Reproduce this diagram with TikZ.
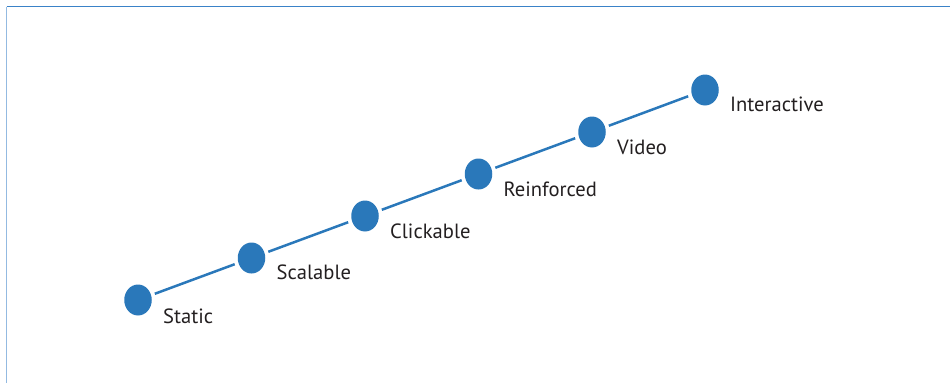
\documentclass[tikz,border=0pt]{standalone}
\usepackage{fontspec}
\setmainfont{PT Sans}
\usetikzlibrary{shapes.geometric}
\definecolor{dotblue}{HTML}{2A78BA}
\definecolor{framebl}{HTML}{3A82C8}
\definecolor{txt}{HTML}{231F20}
\tikzset{
  stage/.style={ellipse, fill=dotblue, minimum width=27.5pt, minimum height=31pt, inner sep=0pt, outer sep=4pt},
  lab/.style={anchor=west, text=txt, font=\fontsize{20.6}{24}\selectfont, inner sep=0pt},
  link/.style={draw=dotblue, line width=2.5pt},
}
\begin{document}
\begin{tikzpicture}[x=1pt,y=-1pt]
\useasboundingbox (0,0) rectangle (950,383);
\coordinate (tl) at (6.5,6.5);
\coordinate (tr) at (950,6.5);
\coordinate (bl) at (6.5,383);
\draw[framebl, line width=1.6pt] (tl) -- (tr);
\draw[framebl!55, line width=1.6pt] (tl) -- (bl);
\node[stage] (s1) at (138,300) {};
\node[stage] (s2) at (251.5,258) {};
\node[stage] (s3) at (365,216) {};
\node[stage] (s4) at (478.5,174) {};
\node[stage] (s5) at (592,132) {};
\node[stage] (s6) at (705,90) {};
\draw[link] (s1) -- (s2);
\draw[link] (s2) -- (s3);
\draw[link] (s3) -- (s4);
\draw[link] (s4) -- (s5);
\draw[link] (s5) -- (s6);
\node[lab] (l1) at (163,316) {Static};
\node[lab] (l2) at (276.5,272) {Scalable};
\node[lab] (l3) at (390,231) {Clickable};
\node[lab] (l4) at (503.5,189) {Reinforced};
\node[lab] (l5) at (617,147) {Video};
\node[lab] (l6) at (730,104) {Interactive};
\end{tikzpicture}
\end{document}
